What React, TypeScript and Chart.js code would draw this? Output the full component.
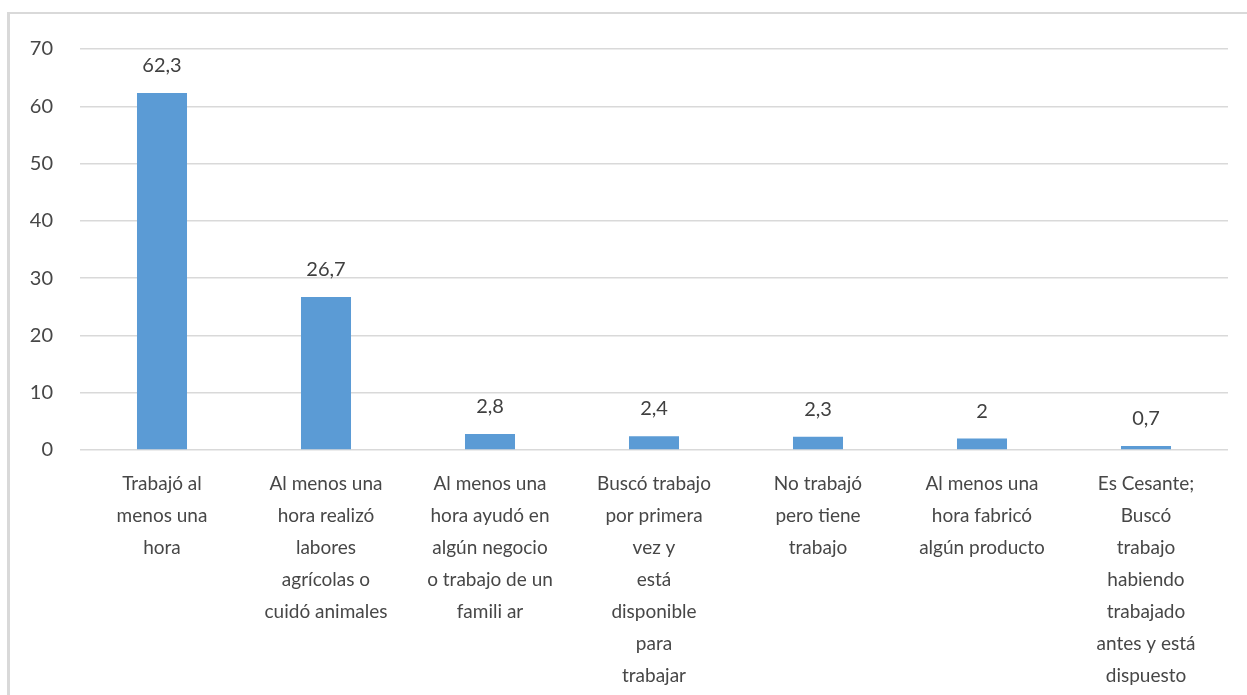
import React, { useEffect, useRef } from "react";
import { Chart, registerables } from "chart.js";

Chart.register(...registerables);

const categories: string[][] = [
  ["Trabajó al", "menos una", "hora"],
  ["Al menos una", "hora realizó", "labores", "agrícolas o", "cuidó animales"],
  ["Al menos una", "hora ayudó en", "algún negocio", "o trabajo de un", "famili ar"],
  ["Buscó trabajo", "por primera", "vez y", "está", "disponible", "para", "trabajar"],
  ["No trabajó", "pero tiene", "trabajo"],
  ["Al menos una", "hora fabricó", "algún producto"],
  ["Es Cesante;", "Buscó", "trabajo", "habiendo", "trabajado", "antes y está", "dispuesto"],
];

const values: number[] = [62.3, 26.7, 2.8, 2.4, 2.3, 2, 0.7];

const yTicks: number[] = [0, 10, 20, 30, 40, 50, 60, 70];

const FONT = "Lato, 'Open Sans', sans-serif";

// Writes each bar's value above it, with a decimal comma.
const valueLabels = {
  id: "valueLabels",
  afterDatasetsDraw(chart: Chart) {
    const ctx = chart.ctx;
    const meta = chart.getDatasetMeta(0);
    ctx.save();
    ctx.font = `20px ${FONT}`;
    ctx.fillStyle = "#404040";
    ctx.textAlign = "center";
    ctx.textBaseline = "alphabetic";
    meta.data.forEach((bar: any, i: number) => {
      const text = String(values[i]).replace(".", ",");
      ctx.fillText(text, bar.x, bar.y - 21);
    });
    ctx.restore();
  },
};

export default function App() {
  const canvasRef = useRef<HTMLCanvasElement | null>(null);

  useEffect(() => {
    if (!canvasRef.current) return;
    const chart = new Chart(canvasRef.current, {
      type: "bar",
      data: {
        labels: categories,
        datasets: [
          {
            data: values,
            backgroundColor: "#5b9bd5",
            borderWidth: 0,
            barPercentage: 0.305,
            categoryPercentage: 1,
          },
        ],
      },
      options: {
        responsive: false,
        animation: false,
        layout: { padding: { top: 49, right: 19, left: 0, bottom: 0 } },
        plugins: {
          legend: { display: false },
          tooltip: { enabled: false },
          title: { display: false },
        },
        scales: {
          x: {
            grid: { display: false, drawTicks: false },
            border: { display: false },
            ticks: {
              color: "#474747",
              font: { family: FONT, size: 19, lineHeight: 1.68 },
              maxRotation: 0,
              minRotation: 0,
              autoSkip: false,
              padding: 18,
            },
            afterFit: (scale: any) => {
              scale.height = 245;
            },
          },
          y: {
            min: 0,
            max: 70,
            afterBuildTicks: (scale: any) => {
              scale.ticks = yTicks.map((v) => ({ value: v }));
            },
            grid: { color: "#d9d9d9", lineWidth: 1.5, drawTicks: false },
            border: { display: false },
            ticks: {
              color: "#474747",
              font: { family: FONT, size: 20 },
              padding: 27,
            },
            afterFit: (scale: any) => {
              scale.width = 80;
            },
          },
        },
      },
      plugins: [valueLabels],
    });
    return () => chart.destroy();
  }, []);

  return (
    <div
      style={{
        position: "fixed",
        left: 0,
        top: 0,
        width: 1247,
        height: 695,
        background: "#ffffff",
        overflow: "hidden",
      }}
    >
      <div
        style={{
          position: "absolute",
          left: 7,
          top: 12,
          width: 1260,
          height: 700,
          borderLeft: "3px solid #d9d9d9",
          borderTop: "2px solid #d9d9d9",
          boxSizing: "border-box",
        }}
      />
      <canvas
        ref={canvasRef}
        width={1247}
        height={695}
        style={{ position: "absolute", left: 0, top: 0 }}
      />
    </div>
  );
}
